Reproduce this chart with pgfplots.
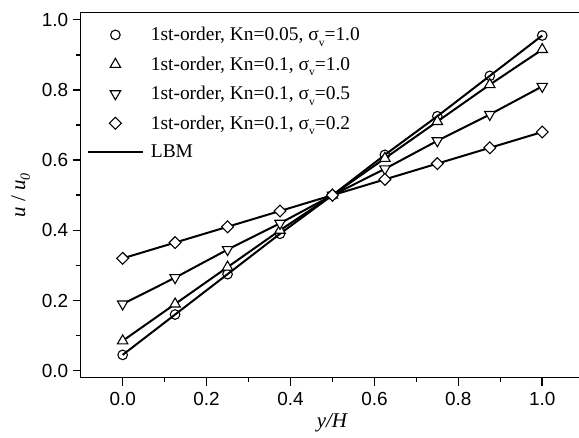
\documentclass[border=0pt]{standalone}
\usepackage{pgfplots}
\pgfplotsset{compat=1.18}
\usepackage{fontspec}
\setmainfont{Liberation Serif}
\newfontfamily\arial{Liberation Sans}
\newcommand{\sv}{σ\raisebox{-0.6ex}{\fontsize{11.5}{11.5}\selectfont v}}
\begin{document}
\begin{tikzpicture}
\begin{axis}[
  width=503.5bp, height=365bp, scale only axis,
  xmin=-0.1, xmax=1.1, ymin=-0.02, ymax=1.02,
  xtick={0,0.2,0.4,0.6,0.8,1.0},
  ytick={0,0.2,0.4,0.6,0.8,1.0},
  minor x tick num=1, minor y tick num=1,
  tick align=outside, tick pos=left,
  major tick length=8bp, minor tick length=4.5bp,
  every tick/.style={black, line width=1.5bp},
  axis line style={line width=1.5bp},
  /pgf/number format/assume math mode=true,
  /pgf/number format/.cd, fixed, fixed zerofill, precision=1, /pgfplots/.cd,
  tick label style={font=\arial\fontsize{19}{19}\selectfont},
  yticklabel style={xshift=-1bp},
  xticklabel style={yshift=-3bp},
  every axis y label/.style={at={(axis description cs:0,0.5)}, xshift=-60bp, rotate=90, anchor=center},
  every axis x label/.style={at={(axis description cs:0.5,0)}, yshift=-45bp, anchor=center},
  xlabel={\fontsize{21}{21}\selectfont\textit{y/H}},
  ylabel={\fontsize{21}{21}\selectfont\textit{u} / \textit{u}\raisebox{-0.5ex}{\fontsize{14}{14}\selectfont\textit{0}}},
  legend image code/.code={\draw[mark repeat=2,mark phase=2,#1] plot coordinates {(0bp,0bp) (27.5bp,0bp) (55bp,0bp)};},
  legend style={draw=none, fill=none, at={(axis description cs:0,1)}, anchor=north west,
    xshift=4bp, yshift=-10.5bp, font=\fontsize{19.5}{19.5}\selectfont,
    row sep=10.5bp, inner sep=2bp,
    /tikz/every odd column/.append style={column sep=5bp}},
  legend cell align=left,
]
\addplot[black, line width=2bp, forget plot] coordinates {(0,0.045) (0.125,0.16) (0.25,0.275) (0.375,0.39) (0.5,0.5) (0.625,0.615) (0.75,0.725) (0.875,0.84) (1.0,0.955)};
\addplot[black, line width=2bp, forget plot] coordinates {(0,0.085) (0.125,0.19) (0.25,0.295) (0.375,0.40) (0.5,0.5) (0.625,0.605) (0.75,0.71) (0.875,0.815) (1.0,0.915)};
\addplot[black, line width=2bp, forget plot] coordinates {(0,0.19) (0.125,0.265) (0.25,0.345) (0.375,0.42) (0.5,0.5) (0.625,0.575) (0.75,0.655) (0.875,0.73) (1.0,0.81)};
\addplot[black, line width=2bp, forget plot] coordinates {(0,0.32) (0.125,0.365) (0.25,0.41) (0.375,0.455) (0.5,0.5) (0.625,0.545) (0.75,0.59) (0.875,0.635) (1.0,0.68)};
\addplot[only marks, mark=o, mark size=4.8bp, mark options={black, fill=white, line width=1.1bp}] coordinates {(0,0.045) (0.125,0.16) (0.25,0.275) (0.375,0.39) (0.5,0.5) (0.625,0.615) (0.75,0.725) (0.875,0.84) (1.0,0.955)};
\addlegendentry{1st-order, Kn=0.05, \sv=1.0}
\addplot[only marks, mark=triangle*, mark size=6bp, mark options={black, fill=white, line width=1.1bp}] coordinates {(0,0.085) (0.125,0.19) (0.25,0.295) (0.375,0.40) (0.5,0.5) (0.625,0.605) (0.75,0.71) (0.875,0.815) (1.0,0.915)};
\addlegendentry{1st-order, Kn=0.1, \sv=1.0}
\addplot[only marks, mark=triangle*, mark size=6bp, mark options={black, fill=white, line width=1.1bp, rotate=180}] coordinates {(0,0.19) (0.125,0.265) (0.25,0.345) (0.375,0.42) (0.5,0.5) (0.625,0.575) (0.75,0.655) (0.875,0.73) (1.0,0.81)};
\addlegendentry{1st-order, Kn=0.1, \sv=0.5}
\addplot[only marks, mark=square*, mark size=4.2bp, mark options={black, fill=white, line width=1.1bp, rotate=45}] coordinates {(0,0.32) (0.125,0.365) (0.25,0.41) (0.375,0.455) (0.5,0.5) (0.625,0.545) (0.75,0.59) (0.875,0.635) (1.0,0.68)};
\addlegendentry{1st-order, Kn=0.1, \sv=0.2}
\addlegendimage{black, line width=2bp}
\addlegendentry{LBM}
\end{axis}
\pgfresetboundingbox
\useasboundingbox ([shift={(-80.7bp,-60.3bp)}]current axis.south west) rectangle ([shift={(498.3bp,12.7bp)}]current axis.north west);
\end{tikzpicture}
\end{document}
